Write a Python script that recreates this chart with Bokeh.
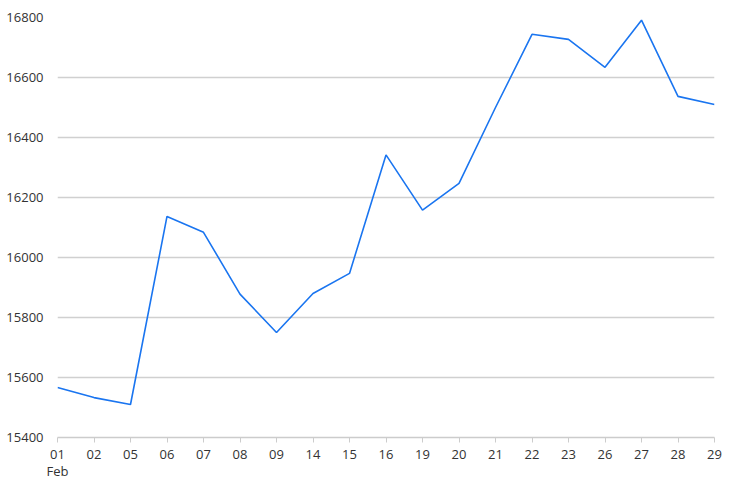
from bokeh.plotting import figure
from bokeh.models import FixedTicker, Range1d, LinearAxis
from bokeh.embed import file_html
from bokeh.resources import INLINE

days = ["01", "02", "05", "06", "07", "08", "09", "14", "15", "16",
        "19", "20", "21", "22", "23", "26", "27", "28", "29"]
values = [15567, 15533, 15510, 16137, 16084, 15878, 15750, 15880, 15947, 16342,
          16158, 16247, 16500, 16744, 16727, 16634, 16791, 16537, 16510]
month_label = "Feb"
y_ticks = [15400, 15600, 15800, 16000, 16200, 16400, 16600, 16800]

xs = list(range(len(days)))
y0, y1 = 15400, 16800

p = figure(width=727, height=486, output_backend="svg", toolbar_location=None,
           x_range=Range1d(0, len(days) - 1), y_range=Range1d(y0, y1),
           min_border_left=57, min_border_right=13, min_border_top=17, min_border_bottom=49)
p.outline_line_color = None
p.background_fill_color = "white"
p.border_fill_color = "white"

p.line(xs, values, line_color="#1a75f0", line_width=1.6)

p.xaxis.ticker = FixedTicker(ticks=xs)
p.xaxis.major_label_overrides = {i: d for i, d in enumerate(days)}
p.xaxis.axis_line_color = "#cccccc"
p.xaxis.axis_line_width = 1.5
p.xaxis.major_tick_line_color = "#cccccc"
p.xaxis.major_tick_out = 5
p.xaxis.major_tick_in = 0
p.xaxis.minor_tick_line_color = None
p.xaxis.major_label_standoff = 7
p.xaxis.major_label_text_font = "Open Sans"
p.xaxis.major_label_text_font_size = "13px"
p.xaxis.major_label_text_color = "#333333"
p.xgrid.grid_line_color = None

# month label under the first day, as a second axis row
month_axis = LinearAxis(ticker=FixedTicker(ticks=[0]),
                        major_label_overrides={0: month_label})
month_axis.axis_line_color = None
month_axis.major_tick_line_color = None
month_axis.minor_tick_line_color = None
month_axis.major_tick_out = 0
month_axis.major_tick_in = 0
month_axis.major_label_standoff = 0
month_axis.major_label_text_font = "Open Sans"
month_axis.major_label_text_font_size = "13px"
month_axis.major_label_text_color = "#333333"
p.add_layout(month_axis, "below")

p.yaxis.ticker = FixedTicker(ticks=y_ticks)
p.yaxis.axis_line_color = None
p.yaxis.major_tick_line_color = None
p.yaxis.minor_tick_line_color = None
p.yaxis.major_label_standoff = 8
p.yaxis.major_label_text_font = "Open Sans"
p.yaxis.major_label_text_font_size = "13px"
p.yaxis.major_label_text_color = "#333333"
p.ygrid.grid_line_color = "#d0d0d0"
p.ygrid.grid_line_width = 1.5

open("out.html", "w").write(file_html(p, INLINE))
